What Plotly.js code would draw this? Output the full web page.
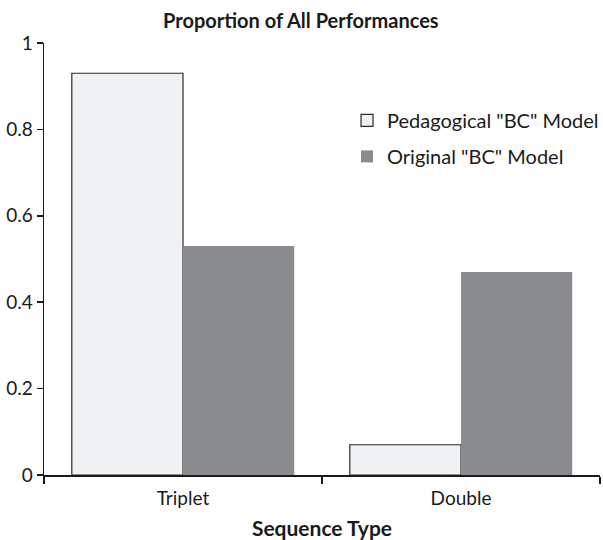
<!DOCTYPE html>
<html>
<head>
<meta charset="utf-8">
<script src="https://cdn.plot.ly/plotly-3.0.1.min.js"></script>
<style>
html,body{margin:0;padding:0;background:#fff;}
#chart{width:603px;height:540px;}
</style>
</head>
<body>
<div id="chart"></div>
<script>
var categories = ["Triplet", "Double"];
var pedagogicalValues = [0.93, 0.07];
var originalValues = [0.53, 0.47];
var seriesNames = ['Pedagogical "BC" Model', 'Original "BC" Model'];
var yTickValues = [0, 0.2, 0.4, 0.6, 0.8, 1];
var yTickLabels = ["0", "0.2", "0.4", "0.6", "0.8", "1"];

var FONT = "Lato, 'Noto Sans', sans-serif";

var traces = [
  {
    type: "bar",
    name: seriesNames[0],
    legendgroup: "ped",
    x: categories,
    y: pedagogicalValues,
    marker: {color: "#f0f1f3", line: {color: "#2b2b2b", width: 1.2}}
  },
  {
    type: "bar",
    name: seriesNames[1],
    legendgroup: "orig",
    x: categories,
    y: originalValues,
    marker: {color: "#8a8b8f", line: {color: "#8a8b8f", width: 0}}
  }
];

var layout = {
  width: 603,
  height: 540,
  margin: {l: 44, r: 3, t: 43, b: 65, pad: 0, autoexpand: false},
  paper_bgcolor: "#ffffff",
  plot_bgcolor: "#ffffff",
  font: {family: FONT, size: 18, color: "#1a1a1a"},
  barmode: "group",
  bargap: 0.2,
  bargroupgap: 0,
  showlegend: true,
  title: {
    text: "<b>Proportion of All Performances</b>",
    font: {family: FONT, size: 20, color: "#1a1a1a"},
    x: 0.462, xanchor: "center", xref: "paper",
    y: 0.962, yanchor: "middle"
  },
  xaxis: {
    type: "category",
    showline: true, linecolor: "#1a1a1a", linewidth: 1.5,
    ticks: "outside", ticklen: 7, tickcolor: "#1a1a1a", tickwidth: 1.5,
    tickson: "boundaries",
    showgrid: false, zeroline: false,
    ticklabelstandoff: 6,
    tickfont: {family: FONT, size: 19, color: "#1a1a1a"},
    title: {text: "<b>Sequence Type</b>", font: {family: FONT, size: 21, color: "#1a1a1a"}, standoff: 14},
    automargin: false
  },
  yaxis: {
    range: [0, 1],
    showline: true, linecolor: "#1a1a1a", linewidth: 1.5,
    ticks: "outside", ticklen: 6, tickcolor: "#1a1a1a", tickwidth: 1.5,
    tickvals: yTickValues, ticktext: yTickLabels,
    showgrid: false, zeroline: false,
    tickfont: {family: FONT, size: 19, color: "#1a1a1a"},
    automargin: false
  },
  legend: {
    x: 0.545, xanchor: "left", xref: "paper",
    y: 0.866, yanchor: "top", yref: "paper",
    bgcolor: "rgba(0,0,0,0)",
    font: {family: FONT, size: 20, color: "#1a1a1a"},
    tracegroupgap: 7,
    itemwidth: 30
  }
};

Plotly.newPlot("chart", traces, layout, {staticPlot: true, displayModeBar: false});
</script>
</body>
</html>
